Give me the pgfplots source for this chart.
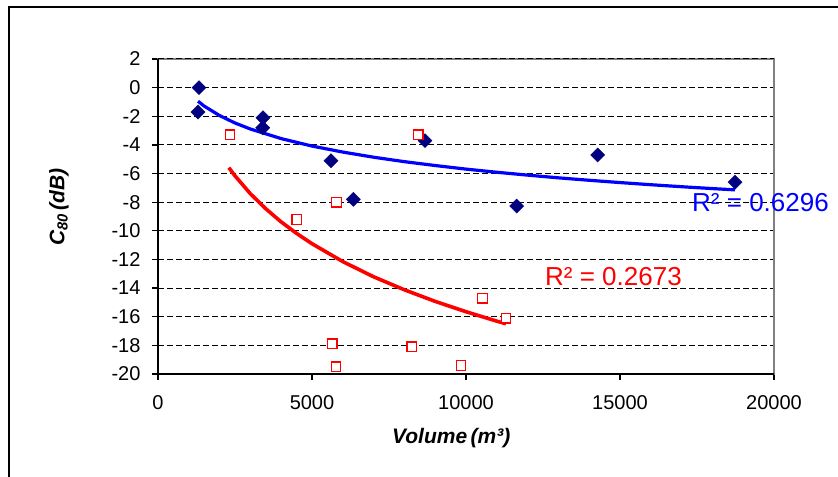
\documentclass[border=0pt]{standalone}
\usepackage{fontspec}
\setmainfont{Liberation Sans}
\usepackage{pgfplots}
\pgfplotsset{compat=1.18}
\definecolor{navy}{RGB}{0,0,128}
\begin{document}
\begin{tikzpicture}
\begin{axis}[
  at={(0,0)}, anchor=south west,
  scale only axis, width=616bp, height=315bp,
  xmin=0, xmax=20000, ymin=-20, ymax=2,
  scaled x ticks=false, scaled y ticks=false,
  xtick={0,5000,10000,15000,20000},
  xticklabels={0,5000,10000,15000,20000},
  ytick={-20,-18,-16,-14,-12,-10,-8,-6,-4,-2,0,2},
  yticklabels={-20,-18,-16,-14,-12,-10,-8,-6,-4,-2,0,2},
  tick align=outside, xtick pos=bottom, ytick pos=left,
  major tick length=6bp,
  tick style={black, line width=1.2bp},
  ymajorgrids,
  grid style={black, dash pattern=on 6bp off 3bp, line width=1bp},
  axis line style={draw=gray, line width=1.5bp},
  ticklabel style={font=\fontsize{20bp}{24bp}\selectfont},
  xticklabel style={yshift=-12bp},
  yticklabel style={xshift=-8bp},
  clip=false,
  xlabel={\bfseries\itshape Volume\,(m³)},
  ylabel={\bfseries\itshape C\textsubscript{80}\,(dB)},
  every axis x label/.style={at={(rel axis cs:0.476,0)}, yshift=-64bp, anchor=center, font=\fontsize{21bp}{25bp}\selectfont},
  every axis y label/.style={at={(rel axis cs:0,0.53)}, xshift=-99bp, rotate=90, anchor=center, font=\fontsize{21bp}{25bp}\selectfont},
]
\draw[black, dash pattern=on 6bp off 3bp, line width=1bp] (rel axis cs:0,1) -- (rel axis cs:1,1);
\draw[black, line width=1.5bp] (rel axis cs:0,1) -- (rel axis cs:0,0) -- (rel axis cs:1,0);
\addplot[only marks, mark=square*, mark size=5bp, mark options={rotate=45, fill=navy, draw=navy}] coordinates {
 (1331,0) (1300,-1.7) (3409,-2.1) (3400,-2.8) (5617,-5.1) (6342,-7.8) (8669,-3.7) (11645,-8.27) (14276,-4.7) (18734,-6.6)
};
\addplot[only marks, mark=square*, mark size=4.8bp, mark options={fill=white, draw=red, line width=1.3bp}] coordinates {
 (2338,-3.3) (4502,-9.2) (5800,-8.0) (8452,-3.3) (5660,-17.9) (5779,-19.5) (8236,-18.1) (9838,-19.4) (10540,-14.7) (11299,-16.1)
};
\addplot[blue, line width=3.2bp, no marks] coordinates {
 (1300,-0.95) (1500,-1.29) (2000,-1.95) (2500,-2.47) (3000,-2.89) (4000,-3.56) (5000,-4.08) (6000,-4.50) (7000,-4.86) (8000,-5.17) (9000,-5.44) (10000,-5.69) (11000,-5.91) (12000,-6.11) (13000,-6.30) (14000,-6.47) (15000,-6.63) (16000,-6.78) (17000,-6.92) (18000,-7.05) (18734,-7.14)
};
\addplot[red, line width=3.6bp, no marks] coordinates {
 (2300,-5.59) (2500,-6.16) (3000,-7.41) (3500,-8.46) (4000,-9.38) (4500,-10.18) (5000,-10.90) (6000,-12.15) (7000,-13.21) (8000,-14.12) (9000,-14.93) (10000,-15.65) (11000,-16.31) (11299,-16.49)
};
\node[anchor=west, inner sep=0pt, text=blue, font=\fontsize{26bp}{30bp}\selectfont] at (rel axis cs:0.8669,0.5429) {R² = 0.6296};
\node[anchor=west, inner sep=0pt, text=red, font=\fontsize{26bp}{30bp}\selectfont] at (rel axis cs:0.6282,0.3079) {R² = 0.2673};
\end{axis}
\draw[black, line width=1.5bp] (-149bp,-120bp) -- (-149bp,367bp) -- (700bp,367bp);
\pgfresetboundingbox
\path[use as bounding box] (-158bp,-103bp) rectangle (680bp,374bp);
\end{tikzpicture}
\end{document}
